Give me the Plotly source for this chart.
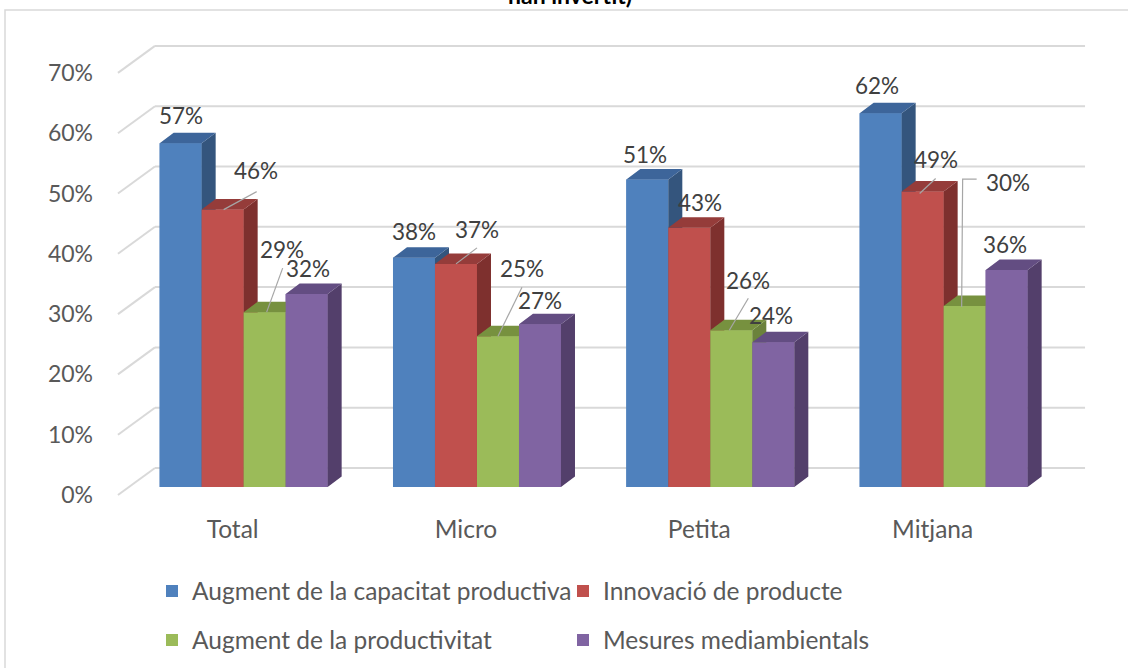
import plotly.graph_objects as go

# ---------------- data ----------------
categories = ["Total", "Micro", "Petita", "Mitjana"]
series_names = [
    "Augment de la capacitat productiva",
    "Innovació de producte",
    "Augment de la productivitat",
    "Mesures mediambientals",
]
capacitat = [57, 38, 51, 62]
innovacio = [46, 37, 43, 49]
productivitat = [29, 25, 26, 30]
mediambientals = [32, 27, 24, 36]
y_ticks = [0, 10, 20, 30, 40, 50, 60, 70]
y_tick_labels = [f"{t}%" for t in y_ticks]
title_tail = "han invertit)"

series_values = [capacitat, innovacio, productivitat, mediambientals]

# ---------------- style ----------------
front_colors = ["#4F81BD", "#C0504D", "#9BBB59", "#8064A2"]
side_colors = ["#34557D", "#7E302E", "#6B823C", "#533F6B"]
top_colors = ["#3D659A", "#953C3A", "#77913F", "#634D82"]
legend_of = ["legend", "legend", "legend2", "legend2"]
FONT = "Lato"
TXT = "#404040"
AX = "#595959"
GRID = "#D9D9D9"

W, H = 1128, 668
ML, MR, MT, MB = 113, 32, 40, 168
PW, PH = W - ML - MR, H - MT - MB
PXU = 233.33          # px per category unit
PYU = 6.03            # px per percentage point
x_lo = -0.56
x_hi = x_lo + PW / PXU
y_lo = -13 / PYU
y_hi = y_lo + PH / PYU

BW = 42 / PXU                       # bar width
offsets = [-2 * BW, -BW, 0, BW]     # left edge offsets
DX, DY = 14 / PXU, 10.5 / PYU       # bar depth
WX, WY = 26 / PXU, 19 / PYU         # back wall offset
FX, FY = -11 / PXU, -8 / PYU        # front axis plane offset
wall_left = -0.4916
wall_right = 3.606

# label offsets (px, y up) relative to front-top centre of each bar
label_off = [
    [(0, 28), (0, 26), (-2, 25), (-4, 28)],
    [(33, 39), (21, 34), (11, 25), (13, 32)],
    [(17, 63), (24, 68), (17, 50), (43, 124)],
    [(1, 26), (0, 24), (-2, 27), (-2, 25)],
]
# leader lines: (series, category, list of px points relative to front-top centre)
leaders = [
    (1, 0, [(1, 0), (34, 18)]),
    (2, 0, [(2, 0), (18, 44)]),
    (1, 1, [(0, 0), (21, 16)]),
    (2, 1, [(0, 0), (24, 49)]),
    (2, 2, [(-2, 0), (17, 32)]),
    (1, 3, [(-3, -2), (13, 13)]),
    (2, 3, [(-3, -1), (-2, 127), (12, 127)]),
]

xpos = list(range(len(categories)))

fig = go.Figure()

# legend / base bars
for i, (name, vals) in enumerate(zip(series_names, series_values)):
    fig.add_trace(go.Bar(
        x=xpos, y=vals, width=BW, offset=offsets[i], name=name,
        marker=dict(color=front_colors[i], line=dict(width=0)),
        legend=legend_of[i], hoverinfo="skip",
    ))

# 3D faces drawn in painter's order
for i, vals in enumerate(series_values):
    fx, fy, sx, sy, tx, ty = [], [], [], [], [], []
    for j, v in enumerate(vals):
        xl = xpos[j] + offsets[i]
        xr = xl + BW
        fx += [xl, xr, xr, xl, xl, None]
        fy += [0, 0, v, v, 0, None]
        sx += [xr, xr + DX, xr + DX, xr, xr, None]
        sy += [0, DY, v + DY, v, 0, None]
        tx += [xl, xr, xr + DX, xl + DX, xl, None]
        ty += [v, v, v + DY, v + DY, v, None]
    for xs, ys, col in ((fx, fy, front_colors[i]), (sx, sy, side_colors[i]), (tx, ty, top_colors[i])):
        fig.add_trace(go.Scatter(
            x=xs, y=ys, mode="lines", fill="toself", fillcolor=col,
            line=dict(width=0, color=col), showlegend=False, hoverinfo="skip",
        ))

shapes = []
# back wall gridlines and left diagonals
for t in y_ticks:
    shapes.append(dict(type="line", xref="x", yref="y", layer="below",
                       x0=wall_left + WX, x1=wall_right, y0=t + WY, y1=t + WY,
                       line=dict(color=GRID, width=2)))
    shapes.append(dict(type="line", xref="x", yref="y", layer="below",
                       x0=wall_left + FX, x1=wall_left + WX, y0=t + FY, y1=t + WY,
                       line=dict(color=GRID, width=2)))

# leader lines
for (i, j, pts) in leaders:
    cx = xpos[j] + offsets[i] + BW / 2
    v = series_values[i][j]
    path = "M" + " L".join(f"{px},{py}" for px, py in pts)
    shapes.append(dict(type="path", xref="x", yref="y", xsizemode="pixel", ysizemode="pixel",
                       xanchor=cx, yanchor=v, path=path,
                       line=dict(color="#A6A6A6", width=1.2)))

# outer chart border
def px2paper_x(p):
    return (p - ML) / PW

def px2paper_y(p):
    return 1 - (p - MT) / PH

shapes.append(dict(type="rect", xref="paper", yref="paper",
                   x0=px2paper_x(5), x1=px2paper_x(1140), y0=px2paper_y(10), y1=px2paper_y(690),
                   line=dict(color=GRID, width=1.5), layer="below"))

annotations = []
for i, vals in enumerate(series_values):
    for j, v in enumerate(vals):
        ox, oy = label_off[i][j]
        annotations.append(dict(
            x=xpos[j] + offsets[i] + BW / 2, y=v, xref="x", yref="y",
            text=f"{v}%", showarrow=False, xanchor="center", yanchor="middle",
            xshift=ox, yshift=oy, font=dict(family=FONT, size=22.5, color=TXT),
        ))

annotations.append(dict(
    x=px2paper_x(570), y=px2paper_y(-5), xref="paper", yref="paper",
    text=f"<b>{title_tail}</b>", showarrow=False, xanchor="center", yanchor="middle",
    font=dict(family=FONT, size=23, color="#000000"),
))

fig.update_layout(
    width=W, height=H,
    margin=dict(l=ML, r=MR, t=MT, b=MB, pad=0),
    paper_bgcolor="white", plot_bgcolor="white",
    barmode="overlay",
    showlegend=True,
    shapes=shapes, annotations=annotations,
    font=dict(family=FONT, color=AX),
    xaxis=dict(range=[x_lo, x_hi], tickvals=xpos, ticktext=categories,
               showgrid=False, zeroline=False, showline=False, ticks="",
               ticklabelshift=-11, ticklabelstandoff=12,
               tickfont=dict(family=FONT, size=24.5, color=AX), fixedrange=True),
    yaxis=dict(range=[y_lo, y_hi], tickvals=y_ticks, ticktext=y_tick_labels,
               showgrid=False, zeroline=False, showline=False, ticks="",
               ticklabelshift=8, ticklabelstandoff=19,
               tickfont=dict(family=FONT, size=23, color=AX), fixedrange=True),
    legend=dict(orientation="h", xref="container", yref="container",
                x=152 / W, y=1 - 591 / H, xanchor="left", yanchor="middle",
                entrywidth=366, font=dict(family=FONT, size=24.5, color=AX),
                bgcolor="rgba(0,0,0,0)"),
    legend2=dict(orientation="h", xref="container", yref="container",
                 x=152 / W, y=1 - 640 / H, xanchor="left", yanchor="middle",
                 entrywidth=366, font=dict(family=FONT, size=24.5, color=AX),
                 bgcolor="rgba(0,0,0,0)"),
)

fig.write_html("out.html", config={"displayModeBar": False},
               post_script="document.body.style.margin='0';")
